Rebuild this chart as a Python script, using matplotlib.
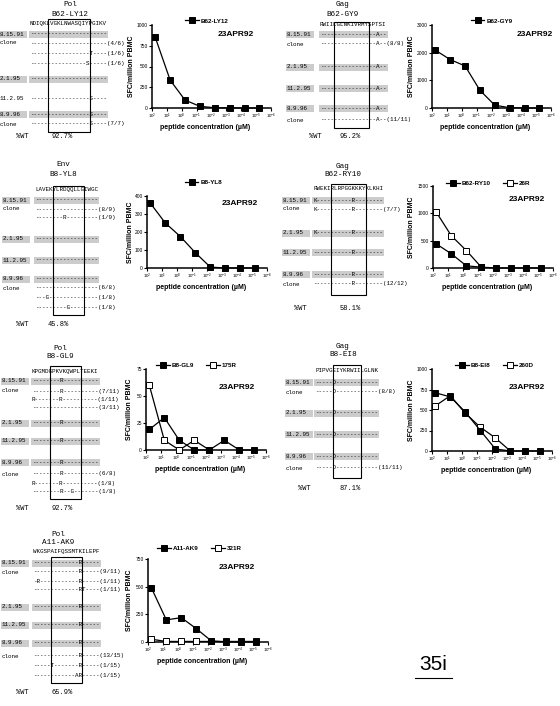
import matplotlib
matplotlib.use("Agg")
import matplotlib.pyplot as plt
from matplotlib.patches import Rectangle
from matplotlib.lines import Line2D
from matplotlib.ticker import NullLocator

plt.rcParams['font.family'] = 'Liberation Sans'
plt.rcParams['mathtext.fontset'] = 'custom'
plt.rcParams['mathtext.rm'] = 'Liberation Sans'
plt.rcParams['mathtext.it'] = 'Liberation Sans:italic'
plt.rcParams['mathtext.bf'] = 'Liberation Sans:bold'

W, H = 560, 706
MONO = 'Liberation Mono'
FS_SEQ = 4.2
CW = 0.6 * FS_SEQ * 100 / 72   # width of one mono char in pixels

# ---- dose response data (SFC/million PBMC) ----
conc = [60, 6, 0.6, 0.06, 6e-3, 6e-4, 6e-5, 6e-6]   # peptide, uM
xticks = [1e2, 1e1, 1e0, 1e-1, 1e-2, 1e-3, 1e-4, 1e-5, 1e-6]
xtick_labels = [r"$10^{2}$", r"$10^{1}$", r"$10^{0}$", r"$10^{-1}$", r"$10^{-2}$",
                r"$10^{-3}$", r"$10^{-4}$", r"$10^{-5}$", r"$10^{-6}$"]

ly12 = [850, 335, 95, 20, 3, 0, 0, 0]
gy9 = [2090, 1750, 1520, 640, 100, 10, 0, 0]
yl8 = [360, 250, 175, 85, 5, 0, 0, 0]
ry10 = [440, 260, 40, 15, 0, 0, 0, 0]
ry10_26r = [1020, 590, 320, 15]
gl9 = [19, 30, 9, 0, 0, 9, 0, 0]
gl9_175r = [60, 9, 0, 9, 0]
ei8 = [710, 660, 475, 250, 25, 0, 0, 0]
ei8_260d = [550, 675, 460, 290, 160, 0]
ak9 = [490, 200, 220, 120, 10, 0, 0, 0]
ak9_321r = [25, 5, 5, 5, 5, 5, 5, 5]

# ---- sequence alignments: (label, mutations {pos: residue}, clone count, grey band) ----
ly12_seq = "NDIQKLVGKLNWASQIYPGIKV"
ly12_rows = [("8.15.91", {}, "", True), ("clone", {}, "(4/6)", False),
             ("", {17: "T"}, "(1/6)", False), ("", {16: "S"}, "(1/6)", False),
             ("2.1.95", {}, "", True), ("11.2.95", {17: "S"}, "", False),
             ("8.9.96", {17: "S"}, "", True), ("clone", {17: "S"}, "(7/7)", False)]

gy9_seq = "RWIILGLNKIVRMYSPTSI"
gy9_rows = [("8.15.91", {16: "A"}, "", True), ("clone", {16: "A"}, "(8/8)", False),
            ("2.1.95", {16: "A"}, "", True), ("11.2.95", {16: "A"}, "", True),
            ("8.9.96", {16: "A"}, "", True), ("clone", {16: "A"}, "(11/11)", False)]

yl8_seq = "LAVEKYLRDQQLLGIWGC"
yl8_rows = [("8.15.91", {}, "", True), ("clone", {}, "(8/9)", False),
            ("", {8: "R"}, "(1/9)", False), ("2.1.95", {}, "", True),
            ("11.2.95", {}, "", True), ("8.9.96", {}, "", True),
            ("clone", {}, "(6/8)", False), ("", {3: "G"}, "(1/8)", False),
            ("", {9: "G"}, "(1/8)", False)]

ry10_seq = "RWEKIRLRPGGKKKYKLKHI"
ry10_rows = [("8.15.91", {0: "K", 11: "R"}, "", True), ("clone", {0: "K", 11: "R"}, "(7/7)", False),
             ("2.1.95", {0: "K", 11: "R"}, "", True), ("11.2.95", {11: "R"}, "", True),
             ("8.9.96", {11: "R"}, "", True), ("clone", {11: "R"}, "(12/12)", False)]

gl9_seq = "KPGMDGPKVKQWPLTEEKI"
gl9_rows = [("8.15.91", {8: "R"}, "", True), ("clone", {8: "R"}, "(7/11)", False),
            ("", {0: "R", 8: "R"}, "(1/11)", False), ("", {}, "(3/11)", False),
            ("2.1.95", {8: "R"}, "", True), ("11.2.95", {8: "R"}, "", True),
            ("8.9.96", {8: "R"}, "", True), ("clone", {8: "R"}, "(6/8)", False),
            ("", {0: "R", 8: "R"}, "(1/8)", False), ("", {8: "R", 11: "G"}, "(1/8)", False)]

ei8_seq = "PIPVGEIYKRWIILGLNK"
ei8_rows = [("8.15.91", {5: "D"}, "", True), ("clone", {5: "D"}, "(8/8)", False),
            ("2.1.95", {5: "D"}, "", True), ("11.2.95", {5: "D"}, "", True),
            ("8.9.96", {5: "D"}, "", True), ("clone", {5: "D"}, "(11/11)", False)]

ak9_seq = "WKGSPAIFQSSMTKILEPF"
ak9_rows = [("8.15.91", {13: "R"}, "", True), ("clone", {13: "R"}, "(9/11)", False),
            ("", {1: "R", 13: "R"}, "(1/11)", False), ("", {13: "R", 14: "T"}, "(1/11)", False),
            ("2.1.95", {13: "R"}, "", True), ("11.2.95", {13: "R"}, "", True),
            ("8.9.96", {13: "R"}, "", True), ("clone", {13: "R"}, "(13/15)", False),
            ("", {5: "T", 13: "R"}, "(1/15)", False), ("", {12: "A", 13: "R"}, "(1/15)", False)]


fig = plt.figure(figsize=(W / 100, H / 100), dpi=100)
fig.patch.set_facecolor("white")
bg = fig.add_axes([0, 0, 1, 1], zorder=0)
bg.set_xlim(0, W)
bg.set_ylim(H, 0)
bg.axis("off")


def px_axes(l, t, r, b):
    return fig.add_axes([l / W, 1 - b / H, (r - l) / W, (b - t) / H], zorder=2)


def residues(seq, muts):
    return "".join(muts.get(i, "-") for i in range(len(seq)))


def draw_alignment(protein, epitope, seq, rows, wt, title_x, title_y, x0, seq_y,
                   label_x, row_y, box, box_y, wt_y, wt_x):
    # title
    bg.text(title_x, title_y, protein, family=MONO, fontsize=5.5, ha="center", va="center")
    bg.text(title_x, title_y + 9, epitope, family=MONO, fontsize=5.5, ha="center", va="center")
    # consensus
    bg.text(x0, seq_y, seq, family=MONO, fontsize=FS_SEQ, ha="left", va="center")
    seq_w = len(seq) * CW
    for (label, muts, count, band), y in zip(rows, row_y):
        if band:
            bg.add_patch(Rectangle((label_x - 1, y - 3.5), 28, 7, color="#cccccc", lw=0, zorder=0))
            bg.add_patch(Rectangle((x0 - 1, y - 3.5), seq_w + 2, 7, color="#cccccc", lw=0, zorder=0))
        if label:
            bg.text(label_x, y, label, family=MONO, fontsize=FS_SEQ, ha="left", va="center")
        bg.text(x0, y, residues(seq, muts) + count, family=MONO, fontsize=FS_SEQ,
                ha="left", va="center")
    # epitope box
    bx0 = x0 + box[0] * CW
    bx1 = x0 + box[1] * CW
    bg.add_patch(Rectangle((bx0, box_y[0]), bx1 - bx0, box_y[1] - box_y[0],
                           fill=False, ec="black", lw=0.8, zorder=3))
    bg.text(wt_x[0], wt_y, "%WT", family=MONO, fontsize=5, ha="center", va="center")
    bg.text(wt_x[1], wt_y, wt, family=MONO, fontsize=5, ha="center", va="center")


def draw_curve(rect, series, ymax, ystep, leg_xy, date_xy, ylab_dx):
    ax = px_axes(*rect)
    ax.set_xscale("log")
    ax.set_xlim(1e2, 1e-6)
    ax.set_ylim(0, ymax)
    handles = []
    for vals, name, filled in series:
        ax.plot(conc[:len(vals)], vals, color="black", lw=0.9, marker="s", ms=3.8,
                mfc="black" if filled else "white", mec="black", mew=0.7,
                zorder=4 if filled else 3, clip_on=False)
        handles.append(Line2D([], [], color="black", lw=0.9, marker="s", ms=3.8,
                              mfc="black" if filled else "white", mec="black", mew=0.7,
                              label=name))
    ax.set_xticks(xticks)
    ax.set_xticklabels(xtick_labels, fontsize=3.2)
    ax.xaxis.set_minor_locator(NullLocator())
    ax.set_yticks(list(range(0, ymax + 1, ystep)))
    ax.tick_params(axis="y", labelsize=3.5)
    ax.tick_params(length=2, width=0.8, pad=1)
    for s in ("top", "right"):
        ax.spines[s].set_visible(False)
    for s in ("left", "bottom"):
        ax.spines[s].set_linewidth(1.1)
    w = rect[2] - rect[0]
    h = rect[3] - rect[1]
    ax.set_ylabel("SFC/million PBMC", fontsize=5, fontweight="bold")
    ax.yaxis.set_label_coords(-ylab_dx / w, 0.5)
    ax.set_xlabel("peptide concentration (µM)", fontsize=5, fontweight="bold")
    ax.xaxis.set_label_coords(0.45, -16 / h)
    ax.text(date_xy[0], date_xy[1], "23APR92", transform=ax.transAxes, fontsize=6,
            fontweight="bold", ha="center", va="center")
    ax.legend(handles=handles, loc="center", bbox_to_anchor=leg_xy, ncol=2, frameon=False,
              prop={"size": 4.5, "weight": "bold"}, handlelength=2.2, handletextpad=0.3,
              columnspacing=2.0, borderpad=0)
    return ax


# ---- alignments ----
draw_alignment("Pol", "B62-LY12", ly12_seq, ly12_rows, "92.7%", 70, 5, 30, 24, 0,
               [34, 43, 53, 63, 79, 98, 114, 124], (5, 17), (19, 132), 137, (22, 62))
draw_alignment("Gag", "B62-GY9", gy9_seq, gy9_rows, "95.2%", 343, 5, 320, 25, 287,
               [34, 44, 67, 88, 108, 120], (4, 14), (22, 128), 136, (315, 350))
draw_alignment("Env", "B8-YL8", yl8_seq, yl8_rows, "45.8%", 63, 165, 35, 189, 3,
               [200, 209, 218, 239, 260, 279, 288, 297, 307], (5, 14), (186, 315), 325, (22, 58))
draw_alignment("Gag", "B62-RY10", ry10_seq, ry10_rows, "58.1%", 343, 166, 313, 189, 283,
               [200, 209, 233, 252, 274, 284], (5, 15), (184, 295), 308, (300, 350))
draw_alignment("Pol", "B8-GL9", gl9_seq, gl9_rows, "92.7%", 60, 348, 32, 372, 2,
               [381, 391, 400, 408, 423, 441, 462, 474, 483, 492], (5, 14), (366, 499), 508, (22, 62))
draw_alignment("Gag", "B8-EI8", ei8_seq, ei8_rows, "87.1%", 343, 346, 315, 370, 286,
               [382, 392, 413, 434, 456, 468], (5, 13), (365, 478), 488, (304, 350))
draw_alignment("Pol", "A11-AK9", ak9_seq, ak9_rows, "65.9%", 58, 534, 33, 551, 2,
               [563, 572, 582, 589, 607, 625, 643, 656, 666, 676], (5, 14), (557, 683), 693, (22, 62))

# ---- dose response curves ----
draw_curve((152, 25, 271, 108), [(ly12, "B62-LY12", True)], 1000, 250,
           (0.46, 1.05), (0.70, 0.88), 17)
draw_curve((432, 25, 551, 108), [(gy9, "B62-GY9", True)], 3000, 1000,
           (0.50, 1.05), (0.86, 0.89), 17)
draw_curve((147, 196, 267, 268), [(yl8, "B8-YL8", True)], 400, 100,
           (0.47, 1.19), (0.77, 0.90), 13)
draw_curve((433, 186, 553, 268), [(ry10, "B62-RY10", True), (ry10_26r, "26R", False)], 1500, 500,
           (0.46, 1.03), (0.78, 0.83), 18)
draw_curve((146, 369, 266, 450), [(gl9, "B8-GL9", True), (gl9_175r, "175R", False)], 75, 25,
           (0.42, 1.04), (0.76, 0.77), 13)
draw_curve((432, 369, 552, 451), [(ei8, "B8-EI8", True), (ei8_260d, "260D", False)], 1000, 250,
           (0.52, 1.04), (0.79, 0.77), 17)
draw_curve((148, 559, 268, 642), [(ak9, "A11-AK9", True), (ak9_321r, "321R", False)], 750, 250,
           (0.43, 1.13), (0.74, 0.90), 15)

# page number
bg.text(433, 665, "35i", fontsize=15, ha="center", va="center")
bg.plot([415, 452], [678, 678], color="black", lw=0.8)

fig.savefig("out.png", dpi=100, facecolor="white")
